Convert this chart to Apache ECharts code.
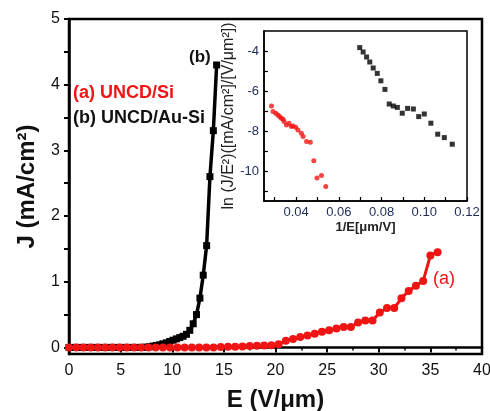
<!DOCTYPE html>
<html>
<head>
<meta charset="utf-8">
<script src="https://cdn.jsdelivr.net/npm/echarts@6/dist/echarts.min.js"></script>
<style>
  html,body{margin:0;padding:0;background:#fff;}
  #main{width:490px;height:411px;}
</style>
</head>
<body>
<div id="main"></div>
<script>
// main plot: J-E curves
var auE = [0,0.33,0.65,0.98,1.3,1.63,1.95,2.28,2.6,2.93,3.25,3.58,3.9,4.23,4.55,4.88,5.2,5.53,5.85,6.18,6.5,6.83,7.15,7.48,7.8,8.13,8.45,8.78,9.1,9.43,9.75,10.08,10.4,10.73,11.05,11.38,11.7,12.03,12.35,12.68,13.0,13.33,13.65,13.98,14.3];
var auJ = [0,0,0,0,0,0,0,0,0,0,0,0,0,0,0,0,0,0,0,0,0,0,0,0.005,0.01,0.02,0.03,0.04,0.055,0.07,0.09,0.11,0.13,0.15,0.17,0.2,0.26,0.36,0.5,0.75,1.1,1.55,2.6,3.3,4.3];
var siE = [0,0.7,1.4,2.1,2.8,3.5,4.2,4.9,5.6,6.3,7.0,7.7,8.4,9.1,9.8,10.5,11.2,11.9,12.6,13.3,14.0,14.7,15.4,16.1,16.8,17.5,18.2,18.9,19.6,20.3,21.0,21.7,22.4,23.1,23.8,24.5,25.2,25.9,26.6,27.3,28.0,28.7,29.4,30.1,30.8,31.5,32.2,32.9,33.6,34.3,35.0,35.7];
var siJ = [0,0,0,0,0,0,0,0,0,0,0,0,0,0,0,0,0,0,0,0,0,0.005,0.01,0.01,0.015,0.02,0.025,0.03,0.035,0.05,0.1,0.13,0.16,0.18,0.21,0.24,0.26,0.29,0.31,0.31,0.38,0.41,0.41,0.53,0.6,0.6,0.75,0.86,0.94,1.01,1.4,1.45];

// inset: F-N plot
var fnAuX = [0.0698,0.0714,0.073,0.0745,0.0761,0.078,0.0797,0.0816,0.0836,0.0855,0.0874,0.0897,0.0922,0.0949,0.0974,0.1,0.1031,0.1063,0.1094,0.1131];
var fnAuY = [-3.83,-4.05,-4.3,-4.55,-4.85,-5.12,-5.49,-5.92,-6.65,-6.75,-6.82,-7.11,-6.87,-6.9,-7.28,-7.15,-7.61,-8.16,-8.33,-8.66];
var fnSiX = [0.0285,0.0292,0.0305,0.0315,0.0323,0.0331,0.0339,0.0344,0.0355,0.0367,0.0378,0.0386,0.0398,0.0409,0.0425,0.0433,0.0449,0.0467,0.0483,0.0498,0.0519,0.0539];
var fnSiY = [-6.75,-7.03,-7.11,-7.2,-7.28,-7.36,-7.41,-7.52,-7.7,-7.61,-7.78,-7.75,-7.81,-7.95,-8.11,-8.28,-8.53,-8.56,-9.49,-10.35,-10.22,-10.77];

var mainYLabels = [0,1,2,3,4,5];
var mainYTicks = [0,0.5,1,1.5,2,2.5,3,3.5,4,4.5,5];
var insetXLabels = [0.04,0.06,0.08,0.10,0.12];
var insetXTicks = [0.03,0.04,0.05,0.06,0.07,0.08,0.09,0.10,0.11,0.12];
var insetYLabels = [-10,-8,-6,-4];
var insetYTicks = [-11,-10,-9,-8,-7,-6,-5,-4];

function pairs(xs, ys){
    var out = [];
    for (var i = 0; i < xs.length; i++) out.push([xs[i], ys[i]]);
    return out;
}

var RED = '#f01414';
var FONT = 'Liberation Sans';

var myChart = echarts.init(document.getElementById('main'));
var option = {
    backgroundColor: '#fff',
    textStyle: {fontFamily: FONT},
    animation: false,
    grid: [
        {left: 69, top: 19, width: 413, height: 335, show: true, borderColor: '#000', borderWidth: 2.5,
            containLabel: false, outerBoundsMode: 'none'},
        {left: 264, top: 31, width: 203, height: 170, show: true, borderColor: '#000', borderWidth: 1.5,
            backgroundColor: 'transparent', containLabel: false, outerBoundsMode: 'none'}
    ],
    xAxis: [
        {
            type: 'value', gridIndex: 0, min: 0, max: 40, interval: 5,
            axisLine: {lineStyle: {color: '#000', width: 2.5}},
            axisTick: {length: 5, lineStyle: {color: '#000', width: 2}},
            minorTick: {show: true, splitNumber: 2, length: 3, lineStyle: {color: '#000', width: 1.5}},
            splitLine: {show: false},
            axisLabel: {fontSize: 16, color: '#111', margin: 9, fontFamily: FONT},
            name: 'E (V/\u03bcm)', nameLocation: 'middle', nameGap: 34,
            nameTextStyle: {fontSize: 24, fontWeight: 'bold', color: '#111', fontFamily: FONT}
        },
        {
            type: 'value', gridIndex: 1, min: 0.025, max: 0.12,
            axisLine: {lineStyle: {color: '#000', width: 1.5}},
            axisTick: {inside: true, length: 4, customValues: insetXTicks, lineStyle: {color: '#000', width: 1.2}},
            splitLine: {show: false},
            axisLabel: {fontSize: 13, color: '#1c2a5a', margin: 5, customValues: insetXLabels,
                formatter: function (v) { return v.toFixed(2); }},
            name: '1/E[\u03bcm/V]', nameLocation: 'middle', nameGap: 20,
            nameTextStyle: {fontSize: 13, fontWeight: 'bold', color: '#222', fontFamily: FONT}
        }
    ],
    yAxis: [
        {
            type: 'value', gridIndex: 0, min: -0.1, max: 5,
            axisLine: {lineStyle: {color: '#000', width: 2.5}},
            axisTick: {length: 5, customValues: mainYTicks, lineStyle: {color: '#000', width: 2}},
            splitLine: {show: false},
            axisLabel: {fontSize: 16, color: '#111', margin: 9, customValues: mainYLabels},
            name: 'J (mA/cm\u00b2)', nameLocation: 'middle', nameGap: 30,
            nameTextStyle: {fontSize: 24, fontWeight: 'bold', color: '#111', fontFamily: FONT}
        },
        {
            type: 'value', gridIndex: 1, min: -11.5, max: -3,
            axisLine: {lineStyle: {color: '#000', width: 1.5}},
            axisTick: {inside: true, length: 4, customValues: insetYTicks, lineStyle: {color: '#000', width: 1.2}},
            splitLine: {show: false},
            axisLabel: {fontSize: 13, color: '#1c2a5a', margin: 5, customValues: insetYLabels},
            name: 'ln (J/E\u00b2)([mA/cm\u00b2]/[V/\u03bcm\u00b2])', nameLocation: 'middle', nameGap: 15,
            nameTextStyle: {fontSize: 16, color: '#222', fontFamily: FONT}
        }
    ],
    series: [
        {
            name: 'UNCD/Au-Si', type: 'line', xAxisIndex: 0, yAxisIndex: 0,
            data: pairs(auE, auJ),
            symbol: 'rect', symbolSize: 7,
            lineStyle: {color: '#000', width: 3.5},
            itemStyle: {color: '#000'}, z: 2
        },
        {
            name: 'UNCD/Si', type: 'line', xAxisIndex: 0, yAxisIndex: 0,
            data: pairs(siE, siJ),
            symbol: 'circle', symbolSize: 8,
            lineStyle: {color: RED, width: 3},
            itemStyle: {color: RED}, z: 3
        },
        {
            name: 'FN Au-Si', type: 'scatter', xAxisIndex: 1, yAxisIndex: 1,
            data: pairs(fnAuX, fnAuY),
            symbol: 'rect', symbolSize: 5,
            itemStyle: {color: '#000'}
        },
        {
            name: 'FN Si', type: 'scatter', xAxisIndex: 1, yAxisIndex: 1,
            data: pairs(fnSiX, fnSiY),
            symbol: 'circle', symbolSize: 5,
            itemStyle: {color: RED}
        }
    ],
    graphic: [
        {type: 'text', left: 73, top: 84, style: {text: '(a) UNCD/Si', fill: RED, font: 'bold 18px ' + FONT}},
        {type: 'text', left: 73, top: 109, style: {text: '(b) UNCD/Au-Si', fill: '#111', font: 'bold 18px ' + FONT}},
        {type: 'text', left: 189, top: 49, style: {text: '(b)', fill: '#111', font: 'bold 17px ' + FONT}},
        {type: 'text', left: 433, top: 270, style: {text: '(a)', fill: RED, font: '18px ' + FONT}}
    ]
};
myChart.setOption(option);
</script>
</body>
</html>
